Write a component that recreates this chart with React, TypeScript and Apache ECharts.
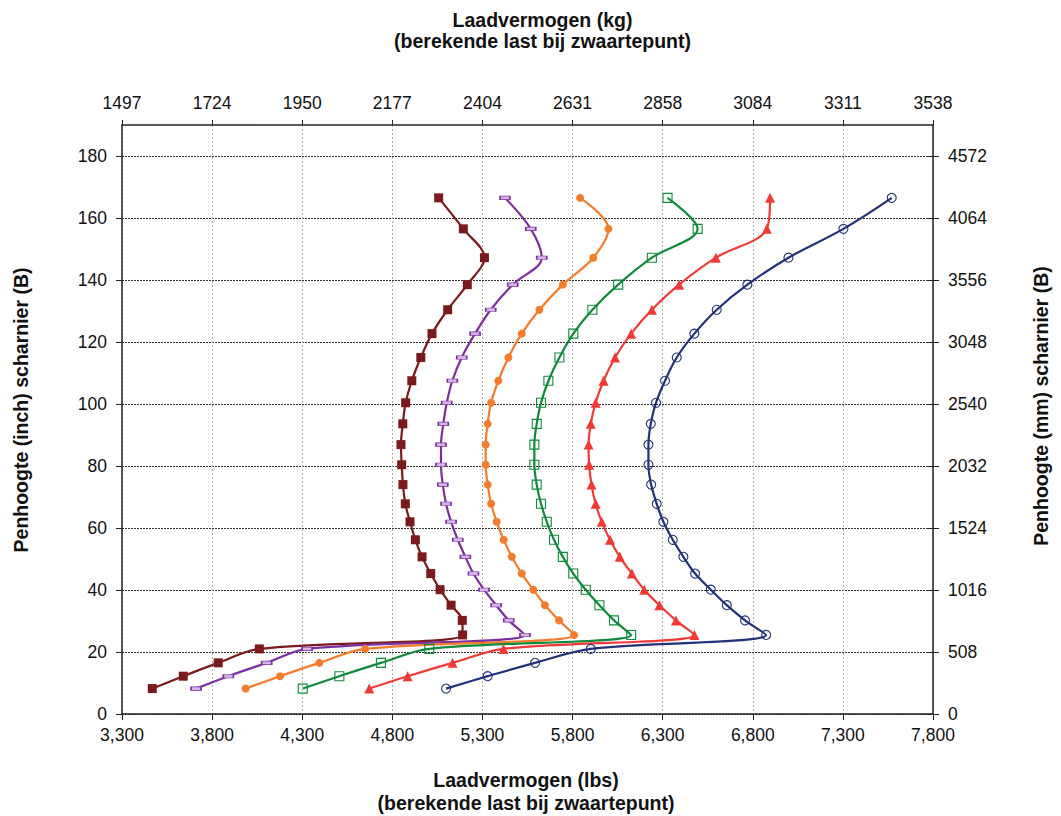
import React, { useEffect, useRef } from 'react';
import * as echarts from 'echarts';

// Heights (inch) shared by every series, bottom to top
const heightsInch = [8.2, 12.2, 16.5, 21, 25.5, 30.2, 35.1, 40.1, 45.3, 50.7, 56.2, 62, 67.8, 74, 80.4, 86.9, 93.6, 100.4, 107.5, 115, 122.7, 130.4, 138.5, 147.2, 156.5, 166.5];

// Load capacity (lbs) per series, same order as heightsInch
const lbsSerie1 = [3468, 3640, 3834, 4062, 5190, 5188, 5126, 5065, 5013, 4965, 4928, 4898, 4872, 4859, 4852, 4848, 4858, 4874, 4908, 4958, 5020, 5107, 5216, 5311, 5194, 5057];
const lbsSerie2 = [3711, 3890, 4103, 4327, 5536, 5446, 5376, 5309, 5250, 5205, 5163, 5126, 5098, 5080, 5070, 5070, 5083, 5102, 5133, 5185, 5259, 5346, 5468, 5629, 5568, 5425];
const lbsSerie3 = [3986, 4177, 4395, 4649, 5808, 5725, 5647, 5582, 5518, 5463, 5418, 5379, 5348, 5329, 5318, 5318, 5329, 5348, 5388, 5444, 5518, 5616, 5746, 5915, 5999, 5842];
const lbsSerie4 = [4303, 4506, 4737, 5005, 6125, 6030, 5949, 5873, 5804, 5746, 5697, 5657, 5625, 5601, 5588, 5588, 5601, 5625, 5666, 5727, 5804, 5910, 6053, 6240, 6494, 6327];
const lbsSerie5 = [4672, 4885, 5134, 5417, 6476, 6374, 6282, 6198, 6129, 6062, 6008, 5962, 5928, 5905, 5892, 5889, 5901, 5928, 5972, 6036, 6125, 6240, 6391, 6595, 6878, 6896];
const lbsSerie6 = [5098, 5329, 5592, 5901, 6874, 6757, 6656, 6567, 6480, 6415, 6356, 6304, 6267, 6236, 6221, 6221, 6234, 6263, 6313, 6378, 6476, 6600, 6770, 6998, 7303, 7571];

// Tick labels
const lbsTickLabels = ['3,300', '3,800', '4,300', '4,800', '5,300', '5,800', '6,300', '6,800', '7,300', '7,800'];
const kgTickLabels = ['1497', '1724', '1950', '2177', '2404', '2631', '2858', '3084', '3311', '3538'];
const inchTickLabels = ['0', '20', '40', '60', '80', '100', '120', '140', '160', '180'];
const mmTickLabels = ['0', '508', '1016', '1524', '2032', '2540', '3048', '3556', '4064', '4572'];

const X_MIN = 3300;
const X_MAX = 7800;
const X_STEP = 500;
const Y_MIN = 0;
const Y_MAX = 190;
const Y_STEP = 20;

const FONT = "'Liberation Sans', Arial, Helvetica, sans-serif";
const TICK_FONT = 17.5;
const TITLE_FONT = 19.5;
const AXIS_COLOR = '#222';

const yTickValues = inchTickLabels.map((_, i) => Y_MIN + i * Y_STEP);

const seriesDefs = [
  { name: 'Serie 1', data: lbsSerie1, color: '#7b1a1c', fill: '#7b1a1c', symbol: 'rect', size: 9 as any, border: 0 },
  { name: 'Serie 2', data: lbsSerie2, color: '#7b2fa0', fill: '#d7b4e6', symbol: 'rect', size: [10, 3.5] as any, border: 1 },
  { name: 'Serie 3', data: lbsSerie3, color: '#f47c2c', fill: '#f47c2c', symbol: 'circle', size: 8 as any, border: 0 },
  { name: 'Serie 4', data: lbsSerie4, color: '#0f8a3c', fill: 'rgba(0,0,0,0)', symbol: 'rect', size: 9 as any, border: 1.1 },
  { name: 'Serie 5', data: lbsSerie5, color: '#f03a35', fill: '#f03a35', symbol: 'triangle', size: 10 as any, border: 0 },
  { name: 'Serie 6', data: lbsSerie6, color: '#23307a', fill: 'rgba(0,0,0,0)', symbol: 'circle', size: 9 as any, border: 1.1 },
];

function xIdx(v: number) {
  return Math.round((v - X_MIN) / X_STEP);
}
function yIdx(v: number) {
  return Math.round((v - Y_MIN) / Y_STEP);
}

export default function App() {
  const ref = useRef<HTMLDivElement>(null);

  useEffect(() => {
    if (!ref.current) return;
    const chart = echarts.init(ref.current, null, { renderer: 'svg' });

    const axisLine = { show: true, onZero: false, lineStyle: { color: AXIS_COLOR, width: 1.5 } };
    const tickStyle = { color: AXIS_COLOR, width: 1 };
    const labelBase = { fontSize: TICK_FONT, color: '#111', fontFamily: FONT };

    const titleStyle = { fontSize: TITLE_FONT, fontWeight: 'bold', fontFamily: FONT, fill: '#111', textAlign: 'center', textVerticalAlign: 'middle' };

    const option: any = {
      animation: false,
      backgroundColor: '#fff',
      grid: { left: 122, top: 125, right: 128, bottom: 102, containLabel: false },
      xAxis: [
        {
          type: 'value', position: 'bottom', min: X_MIN, max: X_MAX, interval: X_STEP,
          axisLine,
          axisTick: { show: true, length: 6, lineStyle: tickStyle },
          axisLabel: { ...labelBase, margin: 12, formatter: (v: number) => lbsTickLabels[xIdx(v)] ?? '' },
          splitLine: { show: true, lineStyle: { color: '#b0b0b0', type: [2, 2], width: 1 } },
        },
        {
          type: 'value', position: 'top', min: X_MIN, max: X_MAX, interval: X_STEP,
          axisLine,
          axisTick: { show: true, length: 5, lineStyle: tickStyle },
          axisLabel: { ...labelBase, margin: 13, formatter: (v: number) => kgTickLabels[xIdx(v)] ?? '' },
          splitLine: { show: false },
        },
        {
          type: 'value', position: 'top', min: X_MIN, max: X_MAX, interval: X_STEP,
          axisLine: { show: false },
          axisTick: { show: true, inside: true, length: 5, lineStyle: tickStyle },
          axisLabel: { show: false },
          splitLine: { show: false },
        },
      ],
      yAxis: [
        {
          type: 'value', position: 'left', min: Y_MIN, max: Y_MAX, interval: Y_STEP,
          axisLine,
          axisTick: { show: true, length: 6, lineStyle: tickStyle, customValues: yTickValues },
          axisLabel: { ...labelBase, margin: 15, customValues: yTickValues, formatter: (v: number) => inchTickLabels[yIdx(v)] ?? '' },
          splitLine: { show: true, lineStyle: { color: '#333', type: [2, 1], width: 1 } },
        },
        {
          type: 'value', position: 'right', min: Y_MIN, max: Y_MAX, interval: Y_STEP,
          axisLine,
          axisTick: { show: true, length: 6, lineStyle: tickStyle, customValues: yTickValues },
          axisLabel: { ...labelBase, margin: 15, customValues: yTickValues, formatter: (v: number) => mmTickLabels[yIdx(v)] ?? '' },
          splitLine: { show: false },
        },
        {
          type: 'value', position: 'right', min: Y_MIN, max: Y_MAX, interval: Y_STEP,
          axisLine: { show: false },
          axisTick: { show: true, inside: true, length: 5, lineStyle: tickStyle, customValues: yTickValues },
          axisLabel: { show: false },
          splitLine: { show: false },
        },
      ],
      series: seriesDefs.map((d, k) => ({
        type: 'line',
        name: d.name,
        xAxisIndex: 0,
        yAxisIndex: 0,
        data: heightsInch.map((h, i) => [d.data[i], h]),
        smooth: 0.35,
        symbol: d.symbol,
        symbolSize: d.size,
        showSymbol: true,
        showAllSymbol: true,
        clip: false,
        z: 2 + k,
        lineStyle: { color: d.color, width: 2.2 },
        itemStyle: { color: d.fill, borderColor: d.color, borderWidth: d.border },
        emphasis: { disabled: true },
      })),
      graphic: [
        { type: 'text', x: 542.5, y: 20, style: { ...titleStyle, text: 'Laadvermogen (kg)' } },
        { type: 'text', x: 542.5, y: 40.5, style: { ...titleStyle, text: '(berekende last bij zwaartepunt)' } },
        { type: 'text', x: 526, y: 780, style: { ...titleStyle, text: 'Laadvermogen (lbs)' } },
        { type: 'text', x: 526, y: 803, style: { ...titleStyle, text: '(berekende last bij zwaartepunt)' } },
        { type: 'text', x: 21, y: 410, rotation: Math.PI / 2, style: { ...titleStyle, text: 'Penhoogte (inch) scharnier (B)' } },
        { type: 'text', x: 1041, y: 406, rotation: Math.PI / 2, style: { ...titleStyle, text: 'Penhoogte (mm) scharnier (B)' } },
      ],
    };

    chart.setOption(option);
    return () => chart.dispose();
  }, []);

  return (
    <div
      ref={ref}
      style={{ position: 'fixed', left: 0, top: 0, width: 1061, height: 816, background: '#fff' }}
    />
  );
}
